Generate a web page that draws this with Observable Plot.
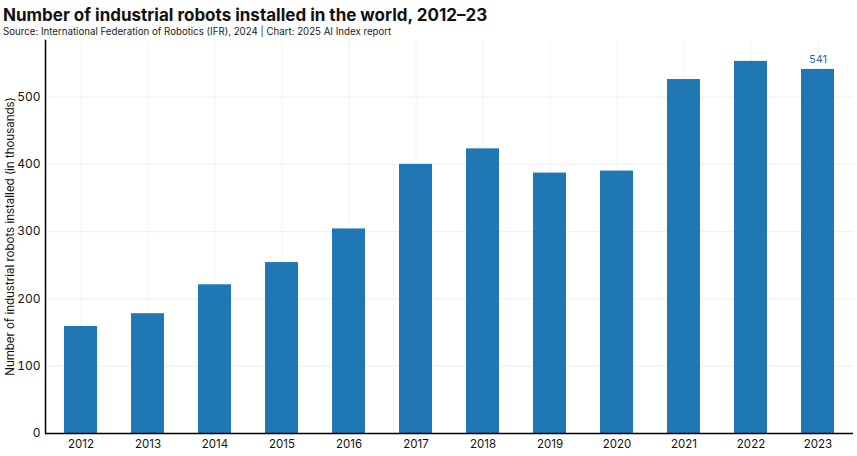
<!DOCTYPE html>
<html>
<head>
<meta charset="utf-8">
<script src="https://cdn.jsdelivr.net/npm/d3@7"></script>
<script src="https://cdn.jsdelivr.net/npm/@observablehq/plot@0.6"></script>
<style>
  body { margin: 0; background: #fff; font-family: Inter, "Noto Sans", sans-serif; }
  #wrap { width: 857px; height: 456px; position: relative; }
  .title { position: absolute; left: 3px; top: 5px; font-size: 17px; font-weight: 700; color: #111; letter-spacing: 0px; }
  .sub { position: absolute; left: 3px; top: 26px; font-size: 9.7px; color: #222; }
  #chart { position: absolute; left: 0; top: 38px; }
</style>
</head>
<body>
<div id="wrap">
  <div class="title">Number of industrial robots installed in the world, 2012–23</div>
  <div class="sub">Source: International Federation of Robotics (IFR), 2024 | Chart: 2025 AI Index report</div>
  <div id="chart"></div>
</div>
<script>
const years = ["2012","2013","2014","2015","2016","2017","2018","2019","2020","2021","2022","2023"];
const installs = [159, 178, 221, 254, 304, 400, 423, 387, 390, 526, 553, 541];
const yTicks = [0, 100, 200, 300, 400, 500];
const labeledYear = "2023";

const data = years.map((y, i) => ({year: y, value: installs[i]}));

const chart = Plot.plot({
  width: 857,
  height: 418,
  marginLeft: 45,
  marginRight: 4,
  marginTop: 2,
  marginBottom: 23,
  style: {fontFamily: "Inter, 'Noto Sans', sans-serif", fontSize: "12px", color: "#111", background: "#fff"},
  x: {domain: years, paddingInner: 0.51, paddingOuter: 0.27, label: null},
  y: {domain: [0, 584], label: null},
  marks: [
    Plot.gridY(yTicks.slice(1), {stroke: "#efefef", strokeOpacity: 1}),
    Plot.gridX(years, {stroke: "#f2f2f2", strokeOpacity: 1}),
    Plot.barY(data, {x: "year", y: "value", fill: "#1f77b4"}),
    Plot.text(data.filter(d => d.year === labeledYear), {x: "year", y: "value", text: d => String(d.value), dy: -10, fill: "#2a6db5", fontSize: 11}),
    Plot.axisY({ticks: yTicks, tickSize: 0, tickPadding: 5, fontSize: 12, label: null}),
    Plot.axisX({tickSize: 0, tickPadding: 6, fontSize: 11.5, label: null}),
    Plot.frame({anchor: "left", stroke: "#000", strokeWidth: 1.5}),
    Plot.ruleY([0], {stroke: "#000", strokeWidth: 1.5})
  ]
});
document.getElementById("chart").appendChild(chart);

// y-axis title
const svg = d3.select(chart);
svg.append("text")
  .attr("transform", `translate(11, ${2 + (418 - 25) / 2}) rotate(-90)`)
  .attr("text-anchor", "middle")
  .attr("dominant-baseline", "middle")
  .attr("font-size", 11.5)
  .attr("fill", "#111")
  .text("Number of industrial robots installed (in thousands)");
</script>
</body>
</html>
